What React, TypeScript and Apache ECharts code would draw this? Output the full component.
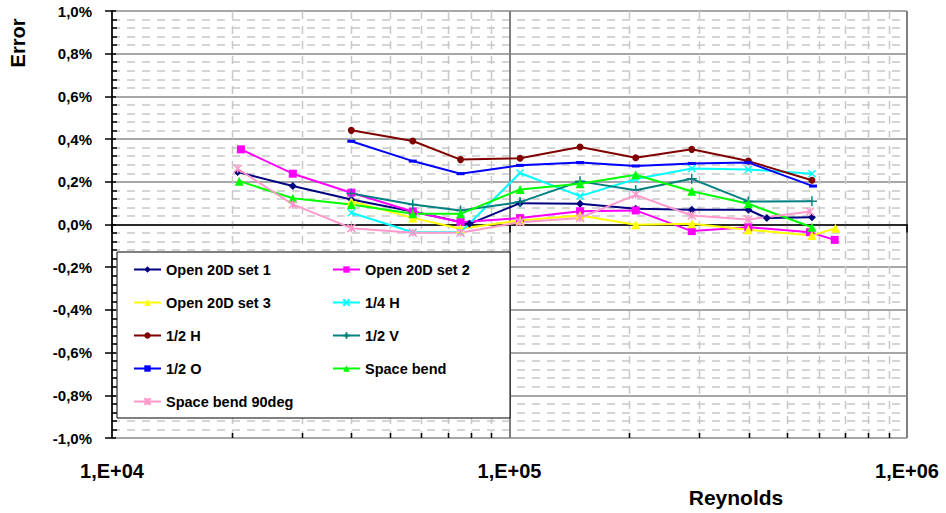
import React, { useEffect, useRef } from "react";
import * as echarts from "echarts";

// Reynolds numbers and measured errors (in %) for each configuration
const RE_OPEN1 = [20700, 28500, 40000, 57100, 79300, 106300, 150500, 207700, 287400, 398900, 444000, 576500];
const ERR_OPEN1 = [0.246, 0.18, 0.117, 0.061, 0.003, 0.1, 0.097, 0.074, 0.069, 0.069, 0.03, 0.034];

const RE_OPEN2 = [21100, 28500, 40000, 57100, 75300, 106300, 150500, 207700, 287400, 398900, 570000, 658000];
const ERR_OPEN2 = [0.352, 0.238, 0.149, 0.061, 0.011, 0.03, 0.062, 0.066, -0.031, -0.013, -0.036, -0.072];

const RE_OPEN3 = [40000, 57100, 75300, 106300, 150500, 207700, 287400, 398900, 576500, 660700];
const ERR_OPEN3 = [0.109, 0.031, -0.02, 0.019, 0.042, -0.001, 0.003, -0.025, -0.052, -0.017];

const RE_QH = [40000, 57100, 75300, 106300, 150500, 207700, 287400, 398900, 576500];
const ERR_QH = [0.055, -0.036, -0.036, 0.241, 0.133, 0.213, 0.262, 0.258, 0.238];

const RE_HH = [40000, 57100, 75300, 106300, 150500, 207700, 287400, 398900, 576500];
const ERR_HH = [0.441, 0.391, 0.304, 0.31, 0.363, 0.313, 0.352, 0.297, 0.207];

const RE_HV = [40000, 57100, 75300, 106300, 150500, 207700, 287400, 398900, 576500];
const ERR_HV = [0.145, 0.094, 0.066, 0.105, 0.202, 0.16, 0.214, 0.108, 0.109];

const RE_HO = [40000, 57100, 75300, 106300, 150500, 207700, 287400, 398900, 580000];
const ERR_HO = [0.39, 0.297, 0.238, 0.277, 0.29, 0.274, 0.286, 0.29, 0.18];

const RE_SB = [20900, 28500, 40000, 57100, 75300, 106300, 150500, 207700, 287400, 398900, 576500];
const ERR_SB = [0.203, 0.123, 0.094, 0.05, 0.05, 0.164, 0.191, 0.233, 0.156, 0.097, -0.013];

const RE_SB90 = [20700, 28500, 40000, 57100, 75300, 106300, 150500, 207700, 287400, 398900, 570000];
const ERR_SB90 = [0.261, 0.094, -0.017, -0.039, -0.039, 0.011, 0.031, 0.139, 0.042, 0.023, 0.061];

// Intermediate decade values for the log-scale minor grid
const MINOR_RE = [20000, 30000, 40000, 50000, 60000, 70000, 80000, 90000, 200000, 300000, 400000, 500000, 600000, 700000, 800000, 900000];

const LEFT_LEGEND = ["Open 20D set 1", "Open 20D set 3", "1/2 H", "1/2 O", "Space bend 90deg"];
const RIGHT_LEGEND = ["Open 20D set 2", "1/4 H", "1/2 V", "Space bend"];

const FONT = "'Liberation Sans', Arial, sans-serif";

const SYM_X = "path://M0,0L10,10M10,0L0,10";
const SYM_PLUS = "path://M5,0L5,10M0,5L10,5";
const SYM_STAR = "path://M0,0L10,10M10,0L0,10M5,0L5,10";

function pairs(xs: number[], ys: number[]) {
  return xs.map((x, i) => [x, ys[i]]);
}

function lineSeries(name: string, xs: number[], ys: number[], color: string, symbol: string, size: any, stroked = false) {
  return {
    name,
    type: "line",
    data: pairs(xs, ys),
    symbol,
    symbolSize: size,
    lineStyle: { color, width: 2 },
    itemStyle: stroked
      ? { color: "rgba(0,0,0,0)", borderColor: color, borderWidth: 1.5 }
      : { color, borderColor: color, borderWidth: 0 },
    z: 3,
  };
}

export default function App() {
  const ref = useRef<HTMLDivElement>(null);

  useEffect(() => {
    if (!ref.current) return;
    const chart = echarts.init(ref.current, undefined, { renderer: "svg" });

    const legendBase = {
      orient: "vertical",
      top: 262,
      itemWidth: 27,
      itemHeight: 8,
      itemGap: 18,
      padding: 0,
      textStyle: { fontFamily: FONT, fontWeight: "bold", fontSize: 14.5, color: "#000" },
      selectedMode: false,
      z: 10,
    };

    chart.setOption({
      animation: false,
      backgroundColor: "#fff",
      grid: { left: 112, top: 11, width: 795, height: 427, containLabel: false },
      xAxis: {
        type: "log",
        logBase: 10,
        min: 10000,
        max: 1000000,
        axisLine: { lineStyle: { color: "#000", width: 1.5 } },
        axisTick: { show: true, length: 8, lineStyle: { color: "#000", width: 1.5 } },
        axisLabel: {
          margin: 23,
          fontFamily: FONT,
          fontWeight: "bold",
          fontSize: 20,
          color: "#000",
          formatter: (v: number) => "1,E+0" + Math.round(Math.log10(v)),
        },
        splitLine: { show: true, lineStyle: { color: "#808080", width: 2 } },
      },
      yAxis: [
        {
          type: "value",
          min: -1,
          max: 1,
          interval: 0.2,
          axisLine: { show: true, lineStyle: { color: "#000", width: 1.5 } },
          axisTick: { show: true, length: 7, lineStyle: { color: "#000", width: 1.5 } },
          axisLabel: {
            margin: 20,
            fontFamily: FONT,
            fontWeight: "bold",
            fontSize: 15,
            color: "#000",
            formatter: (v: number) => {
              const n = Math.abs(v) < 1e-9 ? 0 : v;
              return n.toFixed(1).replace(".", ",") + "%";
            },
          },
          splitLine: { show: true, lineStyle: { color: "#8a8a8a", width: 1.5 } },
          minorSplitLine: { show: true, lineStyle: { color: "#c8c8c8", width: 1.5, type: [8, 7] } },
          minorTick: { show: false, splitNumber: 5 },
        },
        {
          type: "value",
          min: -1,
          max: 1,
          interval: 0.2,
          position: "left",
          axisLine: { show: false },
          axisLabel: { show: false },
          splitLine: { show: false },
          axisTick: { show: true, inside: true, length: 4, lineStyle: { color: "#000", width: 1.5 } },
          minorTick: { show: true, splitNumber: 5, length: 5, lineStyle: { color: "#000", width: 1.5 } },
        },
      ],
      legend: [
        { ...legendBase, left: 133, data: LEFT_LEGEND },
        { ...legendBase, left: 332, data: RIGHT_LEGEND },
      ],
      graphic: [
        {
          type: "rect",
          z: 1,
          shape: { x: 117, y: 252, width: 393, height: 166 },
          style: { fill: "#fff", stroke: "#000", lineWidth: 1 },
          silent: true,
        },
        {
          type: "text",
          x: 18,
          y: 43,
          rotation: Math.PI / 2,
          style: {
            text: "Error",
            fontFamily: FONT,
            fontWeight: "bold",
            fontSize: 20,
            fill: "#000",
            textAlign: "center",
            textVerticalAlign: "middle",
          },
        },
        {
          type: "text",
          x: 736,
          y: 497,
          style: {
            text: "Reynolds",
            fontFamily: FONT,
            fontWeight: "bold",
            fontSize: 21,
            fill: "#000",
            textAlign: "center",
            textVerticalAlign: "middle",
          },
        },
      ],
      series: [
        {
          type: "custom",
          silent: true,
          z: 0,
          data: MINOR_RE.map((v) => [v, 0]),
          renderItem: (params: any, api: any) => {
            const cs = params.coordSys;
            const x = Math.round(api.coord([api.value(0), 0])[0]) + 0.5;
            const top = cs.y;
            const bottom = cs.y + cs.height;
            return {
              type: "group",
              children: [
                {
                  type: "line",
                  shape: { x1: x, y1: top, x2: x, y2: bottom },
                  style: { stroke: "#c8c8c8", lineWidth: 1.5, lineDash: [8, 7] },
                },
                {
                  type: "line",
                  shape: { x1: x, y1: bottom, x2: x, y2: bottom - 5 },
                  style: { stroke: "#000", lineWidth: 1.5 },
                },
              ],
            };
          },
        },
        lineSeries("Open 20D set 1", RE_OPEN1, ERR_OPEN1, "#000080", "diamond", 8),
        lineSeries("Open 20D set 2", RE_OPEN2, ERR_OPEN2, "#FF00FF", "rect", 8),
        lineSeries("Open 20D set 3", RE_OPEN3, ERR_OPEN3, "#FFFF00", "triangle", 9),
        lineSeries("1/4 H", RE_QH, ERR_QH, "#00FFFF", SYM_X, 7, true),
        lineSeries("1/2 H", RE_HH, ERR_HH, "#800000", "circle", 7),
        lineSeries("1/2 V", RE_HV, ERR_HV, "#008080", SYM_PLUS, 10, true),
        lineSeries("1/2 O", RE_HO, ERR_HO, "#0000FF", "rect", [8, 3]),
        lineSeries("Space bend", RE_SB, ERR_SB, "#00FF00", "triangle", 9),
        lineSeries("Space bend 90deg", RE_SB90, ERR_SB90, "#FF99CC", SYM_STAR, 8, true),
      ],
    });

    return () => chart.dispose();
  }, []);

  return (
    <div
      ref={ref}
      style={{ position: "absolute", left: 0, top: 0, width: 946, height: 513 }}
    />
  );
}
